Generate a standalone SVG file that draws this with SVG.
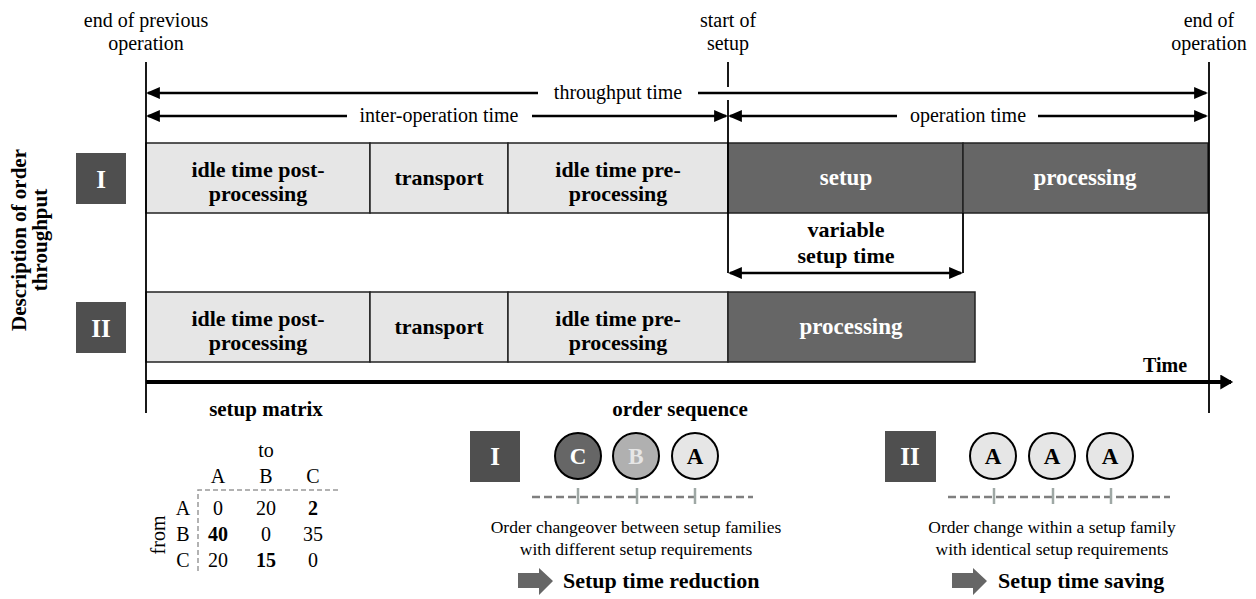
<svg xmlns="http://www.w3.org/2000/svg" width="1256" height="599" viewBox="0 0 1256 599">
<style>
text{font-family:"Liberation Serif","Times New Roman",serif;fill:#000}
.r{font-size:20px}
.b{font-size:22px;font-weight:bold}
.b2{font-size:22px;font-weight:bold}
.bw{font-size:23px;font-weight:bold;fill:#fff}
.s{font-size:17.5px}
.m{text-anchor:middle}
.lt{fill:#e6e6e6;stroke:#222;stroke-width:1.5}
.dk{fill:#666;stroke:#222;stroke-width:1.5}
.lab{fill:#4f4f4f}
.ln{stroke:#000;stroke-width:1.8;fill:none}
.ar{stroke:#000;stroke-width:2.6;fill:none}
.dash{stroke:#7f7f7f;stroke-width:2.5;stroke-dasharray:8,4;fill:none}
.tick{stroke:#9fa8a5;stroke-width:2.5}
.gd{stroke:#999;stroke-width:1.5;stroke-dasharray:5,3;fill:none}
.cir{stroke:#000;stroke-width:2}
</style>
<defs>
<marker id="ah" markerUnits="userSpaceOnUse" markerWidth="14" markerHeight="12" refX="11" refY="5.5" orient="auto-start-reverse" viewBox="0 0 13 11">
<path d="M0,0 L13,5.5 L0,11 z" fill="#000"/>
</marker>
<marker id="ahb" markerUnits="userSpaceOnUse" markerWidth="14" markerHeight="15" refX="10" refY="7" orient="auto" viewBox="0 0 12 14">
<path d="M0,0 L12,7 L0,14 z" fill="#000"/>
</marker>
</defs>

<g id="top-labels">
<text class="r m" x="146" y="27">end of previous</text>
<text class="r m" x="146" y="50">operation</text>
<text class="r m" x="728" y="27">start of</text>
<text class="r m" x="728" y="50">setup</text>
<text class="r m" x="1209" y="27">end of</text>
<text class="r m" x="1209" y="50">operation</text>
</g>

<g id="side-label">
<g transform="translate(0,240) rotate(-90)">
<text class="b2 m" x="0" y="26" style="font-size:21px">Description of order</text>
<text class="b2 m" x="0" y="47" style="font-size:21px">throughput</text>
</g>
</g>

<g id="row-I">
<rect class="lab" x="76" y="153" width="50" height="51"/>
<text class="bw m" x="101" y="188" style="font-size:25px">I</text>
<rect class="lt" x="146" y="143" width="224" height="70"/>
<text class="b m" x="258" y="177">idle time post-</text>
<text class="b m" x="258" y="201">processing</text>
<rect class="lt" x="370" y="143" width="138" height="70"/>
<text class="b m" x="439" y="185">transport</text>
<rect class="lt" x="508" y="143" width="220" height="70"/>
<text class="b m" x="618" y="177">idle time pre-</text>
<text class="b m" x="618" y="201">processing</text>
<rect class="dk" x="728" y="143" width="235" height="70"/>
<text class="bw m" x="846" y="185">setup</text>
<rect class="dk" x="963" y="143" width="245" height="70"/>
<text class="bw m" x="1085" y="185">processing</text>
</g>

<g id="row-II">
<rect class="lab" x="76" y="302" width="50" height="51"/>
<text class="bw m" x="101" y="337" style="font-size:25px">II</text>
<rect class="lt" x="146" y="292" width="224" height="70"/>
<text class="b m" x="258" y="326">idle time post-</text>
<text class="b m" x="258" y="350">processing</text>
<rect class="lt" x="370" y="292" width="138" height="70"/>
<text class="b m" x="439" y="334">transport</text>
<rect class="lt" x="508" y="292" width="220" height="70"/>
<text class="b m" x="618" y="326">idle time pre-</text>
<text class="b m" x="618" y="350">processing</text>
<rect class="dk" x="728" y="292" width="247" height="70"/>
<text class="bw m" x="851" y="334">processing</text>
</g>

<g id="variable-setup">
<text class="b2 m" x="846" y="237">variable</text>
<text class="b2 m" x="846" y="263">setup time</text>
</g>

<g id="connectors">
<line class="ln" x1="146" y1="62" x2="146" y2="413"/>
<line class="ln" x1="1209" y1="62" x2="1209" y2="413"/>
<line class="ln" x1="728" y1="62" x2="728" y2="87"/>
<line class="ln" x1="728" y1="100" x2="728" y2="273"/>
<line class="ln" x1="963" y1="213" x2="963" y2="273"/>
<line class="ar" x1="148" y1="93" x2="538" y2="93" marker-start="url(#ah)"/>
<line class="ar" x1="698" y1="93" x2="1206" y2="93" marker-end="url(#ah)"/>
<text class="r m" x="618" y="99">throughput time</text>
<line class="ar" x1="148" y1="116" x2="347" y2="116" marker-start="url(#ah)"/>
<line class="ar" x1="532" y1="116" x2="726" y2="116" marker-end="url(#ah)"/>
<text class="r m" x="439" y="122">inter-operation time</text>
<line class="ar" x1="730" y1="116" x2="897" y2="116" marker-start="url(#ah)"/>
<line class="ar" x1="1038" y1="116" x2="1206" y2="116" marker-end="url(#ah)"/>
<text class="r m" x="968" y="122">operation time</text>
<line class="ar" x1="730" y1="273" x2="961" y2="273" marker-start="url(#ah)" marker-end="url(#ah)"/>
<line x1="146" y1="382" x2="1231" y2="382" stroke="#000" stroke-width="3.8" marker-end="url(#ahb)"/>
<text class="b2" x="1143" y="372" style="font-size:20px">Time</text>
</g>

<g id="setup-matrix">
<text class="b2 m" x="266" y="416" style="font-size:21px">setup matrix</text>
<text class="r m" x="266" y="457">to</text>
<text class="r m" x="218" y="483">A</text>
<text class="r m" x="266" y="483">B</text>
<text class="r m" x="313" y="483">C</text>
<path class="gd" d="M338,490 H198 V573"/>
<text class="r m" x="183" y="515">A</text>
<text class="r m" x="183" y="541">B</text>
<text class="r m" x="183" y="567">C</text>
<text class="r m" x="218" y="515">0</text>
<text class="r m" x="266" y="515">20</text>
<text class="r m" x="313" y="515" font-weight="bold">2</text>
<text class="r m" x="218" y="541" font-weight="bold">40</text>
<text class="r m" x="266" y="541">0</text>
<text class="r m" x="313" y="541">35</text>
<text class="r m" x="218" y="567">20</text>
<text class="r m" x="266" y="567" font-weight="bold">15</text>
<text class="r m" x="313" y="567">0</text>
<g transform="translate(0,535) rotate(-90)">
<text class="r m" x="0" y="165">from</text>
</g>
</g>

<g id="order-sequence">
<text class="b2 m" x="680" y="416" style="font-size:21px">order sequence</text>
</g>

<g id="sequence-I">
<rect class="lab" x="470" y="431" width="50" height="51"/>
<text class="bw m" x="495" y="465" style="font-size:25px">I</text>
<line class="dash" x1="532" y1="497" x2="753" y2="497"/>
<line class="tick" x1="578" y1="488" x2="578" y2="504"/>
<line class="tick" x1="637" y1="488" x2="637" y2="504"/>
<line class="tick" x1="695" y1="488" x2="695" y2="504"/>
<circle class="cir" cx="578" cy="456" r="23" fill="#666"/>
<text class="bw m" x="578" y="464">C</text>
<circle class="cir" cx="636" cy="456" r="23" fill="#b0b0b0"/>
<text class="bw m" x="636" y="464" style="fill:#e6e6e6">B</text>
<circle class="cir" cx="695" cy="456" r="23" fill="#e6e6e6"/>
<text class="b m" x="695" y="464" style="font-size:23px">A</text>
<text class="s m" x="636" y="533">Order changeover between setup families</text>
<text class="s m" x="636" y="555">with different setup requirements</text>
<path d="M518,573 H539 V568 L553,581 L539,595 V588 H518 z" fill="#666"/>
<text class="b2" x="563" y="588">Setup time reduction</text>
</g>

<g id="sequence-II">
<rect class="lab" x="885" y="431" width="51" height="51"/>
<text class="bw m" x="910" y="465" style="font-size:25px">II</text>
<line class="dash" x1="948" y1="497" x2="1170" y2="497"/>
<line class="tick" x1="994" y1="488" x2="994" y2="504"/>
<line class="tick" x1="1053" y1="488" x2="1053" y2="504"/>
<line class="tick" x1="1111" y1="488" x2="1111" y2="504"/>
<circle class="cir" cx="993" cy="456" r="23" fill="#e6e6e6"/>
<text class="b m" x="993" y="464" style="font-size:23px">A</text>
<circle class="cir" cx="1052" cy="456" r="23" fill="#e6e6e6"/>
<text class="b m" x="1052" y="464" style="font-size:23px">A</text>
<circle class="cir" cx="1110" cy="456" r="23" fill="#e6e6e6"/>
<text class="b m" x="1110" y="464" style="font-size:23px">A</text>
<text class="s m" x="1052" y="533">Order change within a setup family</text>
<text class="s m" x="1052" y="555">with identical setup requirements</text>
<path d="M952,573 H973 V568 L987,581 L973,595 V588 H952 z" fill="#666"/>
<text class="b2" x="998" y="588">Setup time saving</text>
</g>
</svg>
